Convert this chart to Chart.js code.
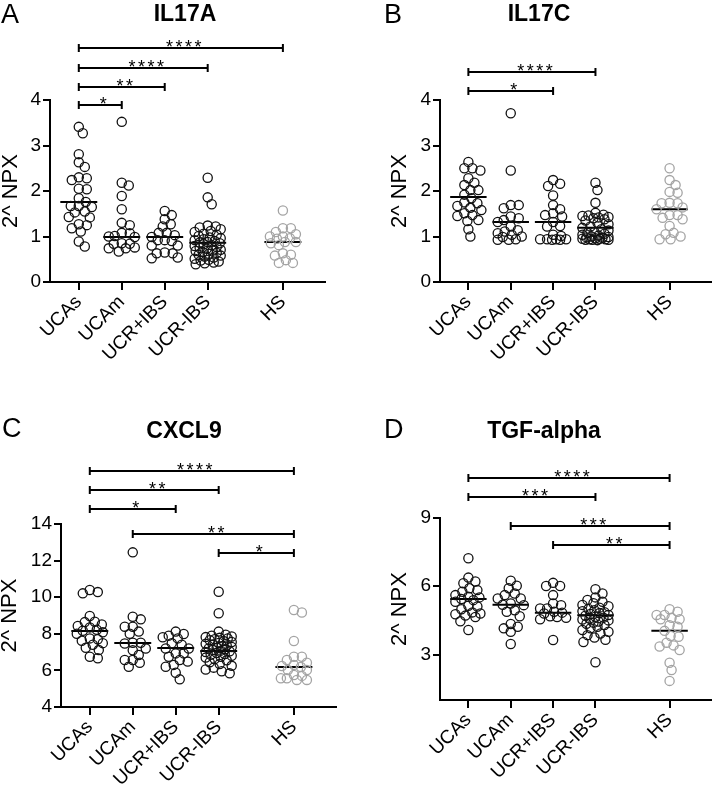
<!DOCTYPE html>
<html>
<head>
<meta charset="utf-8">
<script src="https://cdn.jsdelivr.net/npm/chart.js@4.4.1/dist/chart.umd.min.js"></script>
<style>
  html, body { margin: 0; padding: 0; background: #fff; }
  #wrap { position: relative; width: 717px; height: 794px; background: #fff; overflow: hidden; }
  canvas { position: absolute; }
</style>
</head>
<body>
<div id="wrap">
  <canvas id="pA" width="358" height="397" style="left:0;top:0"></canvas>
  <canvas id="pB" width="359" height="397" style="left:358px;top:0"></canvas>
  <canvas id="pC" width="358" height="397" style="left:0;top:397px"></canvas>
  <canvas id="pD" width="359" height="397" style="left:358px;top:397px"></canvas>
</div>
<script>
// ---------- categories ----------
const groups = ['UCAs', 'UCAm', 'UCR+IBS', 'UCR-IBS', 'HS'];
const groupPos = [1, 2, 3, 4, 5.75];

// ---------- IL17A ----------
const il17a_UCAs = [3.41, 3.27, 2.81, 2.63, 2.53, 2.30, 2.28, 2.24, 2.05, 2.04, 1.84, 1.76, 1.67, 1.67, 1.65, 1.55, 1.53, 1.43, 1.42, 1.27, 1.25, 1.18, 1.11, 0.89, 0.78];
const il17a_UCAm = [3.52, 2.18, 2.12, 1.89, 1.60, 1.30, 1.25, 1.08, 1.07, 1.01, 1.00, 0.99, 0.85, 0.84, 0.84, 0.76, 0.74, 0.74, 0.67];
const il17a_UCRp = [1.56, 1.47, 1.38, 1.27, 1.22, 1.08, 1.08, 1.03, 0.99, 0.92, 0.92, 0.90, 0.80, 0.80, 0.65, 0.63, 0.63, 0.54, 0.52];
const il17a_UCRm = [2.29, 1.86, 1.71, 1.24, 1.22, 1.20, 1.16, 1.12, 1.10, 1.06, 1.04, 1.01, 0.98, 0.96, 0.94, 0.92, 0.90, 0.88, 0.87, 0.85, 0.83, 0.81, 0.79, 0.77, 0.75, 0.73, 0.71, 0.69, 0.68, 0.66, 0.64, 0.62, 0.60, 0.58, 0.56, 0.54, 0.51, 0.49, 0.47, 0.45, 0.43, 0.41, 0.39];
const il17a_HS = [1.57, 1.18, 1.18, 1.10, 1.05, 1.00, 1.00, 0.96, 0.95, 0.88, 0.88, 0.85, 0.81, 0.63, 0.60, 0.58, 0.48, 0.42, 0.42];
const il17a_medians = [1.76, 0.99, 0.99, 0.86, 0.88];
const il17a_yTicks = [0, 1, 2, 3, 4];
const il17a_brFrom = [0, 0, 0, 0];
const il17a_brTo = [4, 3, 2, 1];
const il17a_brY = [5.14, 4.70, 4.29, 3.89];
const il17a_brLabel = ['****', '****', '**', '*'];

// ---------- IL17C ----------
const il17c_UCAs = [2.64, 2.50, 2.50, 2.45, 2.28, 2.18, 2.13, 2.02, 2.02, 1.92, 1.84, 1.75, 1.73, 1.67, 1.63, 1.58, 1.51, 1.47, 1.45, 1.36, 1.34, 1.16, 1.00];
const il17c_UCAm = [3.71, 2.45, 1.69, 1.69, 1.62, 1.44, 1.40, 1.36, 1.32, 1.22, 1.14, 1.11, 1.07, 1.04, 1.00, 0.99, 0.94, 0.93, 0.93];
const il17c_UCRp = [2.24, 2.16, 2.11, 1.90, 1.69, 1.60, 1.51, 1.47, 1.44, 1.32, 1.23, 1.22, 1.04, 1.01, 0.94, 0.94, 0.94, 0.93, 0.94, 0.93];
const il17c_UCRm = [2.18, 2.02, 1.74, 1.52, 1.48, 1.46, 1.45, 1.43, 1.42, 1.40, 1.38, 1.35, 1.30, 1.27, 1.22, 1.19, 1.16, 1.13, 1.10, 1.08, 1.06, 1.04, 1.02, 1.00, 0.99, 0.98, 0.97, 0.96, 0.95, 0.95, 0.94, 0.94, 0.93, 0.93, 0.93, 0.92];
const il17c_HS = [2.50, 2.24, 2.13, 1.98, 1.96, 1.74, 1.73, 1.73, 1.64, 1.60, 1.47, 1.47, 1.41, 1.38, 1.23, 1.08, 1.05, 1.00, 0.94, 0.94];
const il17c_medians = [1.87, 1.32, 1.32, 1.19, 1.60];
const il17c_yTicks = [0, 1, 2, 3, 4];
const il17c_brFrom = [0, 0];
const il17c_brTo = [3, 2];
const il17c_brY = [4.62, 4.20];
const il17c_brLabel = ['****', '*'];

// ---------- CXCL9 ----------
const cxcl9_UCAs = [10.39, 10.28, 10.21, 8.97, 8.66, 8.64, 8.51, 8.43, 8.35, 8.22, 8.17, 8.08, 8.00, 7.75, 7.70, 7.62, 7.49, 7.40, 7.24, 7.11, 6.75, 6.66];
const cxcl9_UCAm = [12.45, 8.93, 8.79, 8.39, 8.39, 8.12, 8.00, 7.51, 7.51, 7.47, 7.20, 7.10, 6.84, 6.57, 6.57, 6.42, 6.20];
const cxcl9_UCRp = [8.12, 7.99, 7.90, 7.81, 7.75, 7.49, 7.40, 7.20, 7.20, 6.93, 6.93, 6.75, 6.57, 6.48, 6.30, 6.20, 5.87, 5.51];
const cxcl9_UCRm = [10.30, 9.12, 8.12, 7.95, 7.90, 7.85, 7.82, 7.78, 7.75, 7.70, 7.65, 7.60, 7.55, 7.50, 7.45, 7.40, 7.36, 7.32, 7.28, 7.24, 7.20, 7.16, 7.12, 7.08, 7.04, 7.00, 6.95, 6.90, 6.85, 6.80, 6.75, 6.70, 6.62, 6.55, 6.45, 6.35, 6.25, 6.15, 6.05, 5.95, 5.84];
const cxcl9_HS = [9.30, 9.16, 7.61, 6.75, 6.75, 6.57, 6.42, 6.30, 6.24, 6.19, 6.02, 6.02, 5.75, 5.70, 5.57, 5.57, 5.48, 5.48];
const cxcl9_medians = [8.15, 7.50, 7.22, 7.06, 6.19];
const cxcl9_yTicks = [4, 6, 8, 10, 12, 14];
const cxcl9_brFrom = [0, 0, 0, 1, 3];
const cxcl9_brTo = [4, 3, 2, 4, 4];
const cxcl9_brY = [16.90, 15.86, 14.82, 13.45, 12.42];
const cxcl9_brLabel = ['****', '**', '*', '**', '*'];

// ---------- TGF-alpha ----------
const tgfa_UCAs = [7.23, 6.38, 6.21, 6.13, 5.91, 5.83, 5.76, 5.61, 5.54, 5.51, 5.44, 5.39, 5.32, 5.14, 5.11, 4.99, 4.85, 4.80, 4.77, 4.71, 4.65, 4.46, 4.08];
const tgfa_UCAm = [6.24, 6.02, 5.91, 5.68, 5.61, 5.46, 5.46, 5.24, 5.19, 5.17, 4.94, 4.88, 4.68, 4.34, 4.22, 4.15, 4.00, 3.46];
const tgfa_UCRp = [6.15, 6.01, 6.01, 5.61, 5.24, 5.17, 5.02, 5.02, 4.88, 4.84, 4.80, 4.68, 4.65, 4.61, 4.55, 3.64];
const tgfa_UCRm = [5.87, 5.68, 5.51, 5.40, 5.32, 5.25, 5.18, 5.12, 5.06, 5.00, 4.95, 4.90, 4.86, 4.82, 4.78, 4.74, 4.70, 4.66, 4.62, 4.58, 4.54, 4.50, 4.45, 4.40, 4.35, 4.30, 4.22, 4.15, 4.08, 4.00, 3.92, 3.85, 3.75, 3.65, 3.55, 2.66];
const tgfa_HS = [4.99, 4.88, 4.74, 4.74, 4.61, 4.55, 4.55, 4.29, 4.22, 4.04, 3.81, 3.78, 3.52, 3.40, 3.35, 3.20, 2.64, 2.32, 1.84];
const tgfa_medians = [5.44, 5.19, 4.84, 4.72, 4.04];
const tgfa_yTicks = [3, 6, 9];
const tgfa_brFrom = [0, 0, 1, 2];
const tgfa_brTo = [4, 3, 4, 4];
const tgfa_brY = [10.76, 9.92, 8.65, 7.81];
const tgfa_brLabel = ['****', '***', '***', '**'];

// ---------- drawing ----------
const FONT = '"Liberation Sans", Arial, Helvetica, sans-serif';
const GREY = '#a4a4a4';
Chart.defaults.font.family = FONT;
Chart.defaults.color = '#000';

function swarm(vals, ys) {
  const D = 7.5, W = 13;
  const order = vals.map((v, i) => i).sort((a, b) => vals[b] - vals[a]);
  const placed = [];
  const offs = [];
  for (const i of order) {
    const py = ys.getPixelForValue(vals[i]);
    let best = 0, bestD = -1;
    for (let k = 0; k <= 2 * W; k++) {
      const off = k === 0 ? 0 : (k % 2 ? Math.ceil(k / 2) : -k / 2);
      let md = Infinity;
      for (const q of placed) {
        const d = Math.hypot(q[0] - off, q[1] - py);
        if (d < md) md = d;
      }
      if (md >= D) { best = off; bestD = md; break; }
      if (md > bestD) { bestD = md; best = off; }
    }
    placed.push([best, py]);
    offs[i] = best;
  }
  return offs;
}

function makePanel(id, p) {
  const datasets = [];
  p.values.forEach((vals, g) => {
    datasets.push({
      data: vals.map(v => ({ x: groupPos[g], y: v })),
      pointRadius: 4.6,
      pointHoverRadius: 4.6,
      borderWidth: 1.3,
      borderColor: g === 4 ? GREY : '#111',
      backgroundColor: 'rgba(255,255,255,0)',
      showLine: false,
      clip: false
    });
  });
  p.medians.forEach((m, g) => {
    datasets.push({
      data: [{ x: groupPos[g] - 0.43, y: m }, { x: groupPos[g] + 0.43, y: m }],
      showLine: true,
      pointRadius: 0,
      borderWidth: 2,
      borderColor: '#000',
      fill: false,
      clip: false
    });
  });

  const annot = {
    id: 'annot' + id,
    afterDatasetsDraw(chart) {
      const ctx = chart.ctx;
      const xs = chart.scales.x, ys = chart.scales.y;
      const ca = chart.chartArea;
      ctx.save();
      ctx.strokeStyle = '#000';
      ctx.fillStyle = '#000';
      ctx.lineWidth = 2;
      p.brFrom.forEach((f, i) => {
        const x1 = xs.getPixelForValue(groupPos[f]);
        const x2 = xs.getPixelForValue(groupPos[p.brTo[i]]);
        const y = Math.round(ys.getPixelForValue(p.brY[i]));
        ctx.beginPath();
        ctx.moveTo(x1, y); ctx.lineTo(x2, y);
        ctx.moveTo(x1, y - 4); ctx.lineTo(x1, y + 4);
        ctx.moveTo(x2, y - 4); ctx.lineTo(x2, y + 4);
        ctx.stroke();
        ctx.font = '18px ' + FONT;
        ctx.textAlign = 'center';
        ctx.textBaseline = 'alphabetic';
        const sp = 2.5;
        if ('letterSpacing' in ctx) ctx.letterSpacing = sp + 'px';
        ctx.fillText(p.brLabel[i], (x1 + x2) / 2 + 3 + sp / 2, y + 5);
        if ('letterSpacing' in ctx) ctx.letterSpacing = '0px';
      });
      // panel letter
      ctx.textAlign = 'left';
      ctx.textBaseline = 'alphabetic';
      ctx.font = '27px ' + FONT;
      ctx.fillText(p.letter, p.letterX, p.letterY);
      // title
      ctx.textAlign = 'center';
      ctx.font = 'bold 23px ' + FONT;
      ctx.fillText(p.title, p.titleX, p.titleY);
      // y axis title
      ctx.save();
      ctx.translate(p.yLabelX, (ca.top + ca.bottom) / 2);
      ctx.rotate(-Math.PI / 2);
      ctx.font = '22px ' + FONT;
      ctx.textAlign = 'center';
      ctx.textBaseline = 'middle';
      ctx.fillText('2^ NPX', 0, 0);
      ctx.restore();
      ctx.restore();
    }
  };

  const cfg = {
    type: 'scatter',
    data: { datasets },
    plugins: [annot],
    options: {
      responsive: false,
      animation: false,
      devicePixelRatio: 1,
      events: [],
      layout: { padding: p.padding },
      plugins: { legend: { display: false }, tooltip: { enabled: false }, title: { display: false } },
      scales: {
        x: {
          type: 'linear',
          min: 0.33,
          max: 6.73,
          afterBuildTicks: s => { s.ticks = groupPos.map(v => ({ value: v })); },
          afterFit: s => { s.height = p.xh; },
          ticks: {
            callback: (v, i) => groups[i],
            autoSkip: false,
            minRotation: 45,
            maxRotation: 45,
            padding: 1,
            color: '#000',
            font: { size: 19, family: FONT }
          },
          grid: { display: true, drawOnChartArea: false, drawTicks: true, tickLength: 8, color: '#000', lineWidth: 2 },
          border: { display: true, color: '#000', width: 2 }
        },
        y: {
          type: 'linear',
          min: p.yMin,
          max: p.yMax,
          afterBuildTicks: s => { s.ticks = p.yTicks.map(v => ({ value: v })); },
          afterFit: s => { s.width = 50; },
          ticks: { padding: 2, color: '#000', font: { size: 19, family: FONT } },
          grid: { display: true, drawOnChartArea: false, drawTicks: true, tickLength: 7, color: '#000', lineWidth: 2 },
          border: { display: true, color: '#000', width: 2 }
        }
      }
    }
  };
  const chart = new Chart(document.getElementById(id), cfg);
  const xs = chart.scales.x, ys = chart.scales.y;
  p.values.forEach((vals, g) => {
    const offs = swarm(vals, ys);
    const cx = xs.getPixelForValue(groupPos[g]);
    chart.data.datasets[g].data = vals.map((v, i) => ({ x: xs.getValueForPixel(cx + offs[i]), y: v }));
  });
  chart.update('none');
  return chart;
}

makePanel('pA', {
  values: [il17a_UCAs, il17a_UCAm, il17a_UCRp, il17a_UCRm, il17a_HS],
  medians: il17a_medians, yTicks: il17a_yTicks, yMin: 0, yMax: 4,
  brFrom: il17a_brFrom, brTo: il17a_brTo, brY: il17a_brY, brLabel: il17a_brLabel,
  letter: 'A', letterX: 1, letterY: 23, title: 'IL17A', titleX: 185, titleY: 20.5, yLabelX: 11,
  padding: { left: 0, top: 100, right: 33, bottom: 10 }, xh: 105
});
makePanel('pB', {
  values: [il17c_UCAs, il17c_UCAm, il17c_UCRp, il17c_UCRm, il17c_HS],
  medians: il17c_medians, yTicks: il17c_yTicks, yMin: 0, yMax: 4,
  brFrom: il17c_brFrom, brTo: il17c_brTo, brY: il17c_brY, brLabel: il17c_brLabel,
  letter: 'B', letterX: 26, letterY: 23, title: 'IL17C', titleX: 181, titleY: 20.5, yLabelX: 41.5,
  padding: { left: 32, top: 100, right: 2, bottom: 10 }, xh: 105
});
makePanel('pC', {
  values: [cxcl9_UCAs, cxcl9_UCAm, cxcl9_UCRp, cxcl9_UCRm, cxcl9_HS],
  medians: cxcl9_medians, yTicks: cxcl9_yTicks, yMin: 4, yMax: 14,
  brFrom: cxcl9_brFrom, brTo: cxcl9_brTo, brY: cxcl9_brY, brLabel: cxcl9_brLabel,
  letter: 'C', letterX: 2, letterY: 40, title: 'CXCL9', titleX: 184, titleY: 41, yLabelX: 10,
  padding: { left: 11, top: 127, right: 22, bottom: 0 }, xh: 87
});
makePanel('pD', {
  values: [tgfa_UCAs, tgfa_UCAm, tgfa_UCRp, tgfa_UCRm, tgfa_HS],
  medians: tgfa_medians, yTicks: tgfa_yTicks, yMin: 1, yMax: 9,
  brFrom: tgfa_brFrom, brTo: tgfa_brTo, brY: tgfa_brY, brLabel: tgfa_brLabel,
  letter: 'D', letterX: 26, letterY: 41, title: 'TGF-alpha', titleX: 186, titleY: 41, yLabelX: 41.5,
  padding: { left: 32, top: 121, right: 2, bottom: 0 }, xh: 94
});
</script>
</body>
</html>
